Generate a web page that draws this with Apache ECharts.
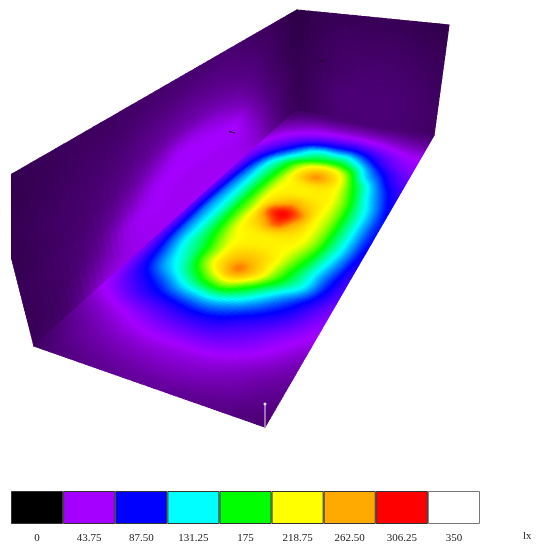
<!DOCTYPE html>
<html><head><meta charset="utf-8">
<style>html,body{margin:0;padding:0;background:#fff}#c{width:548px;height:548px}</style>
<script src="https://cdn.jsdelivr.net/npm/echarts@6/dist/echarts.min.js"></script>
</head><body><div id="c"></div>
<script>
// Illuminance (lx). Rows run along the room, near edge first; columns run across it.
const floorLux = [
[17,20,22,24,25,26,26,26,25,24,23,21,20],
[20,24,27,29,31,32,33,33,32,30,28,25,23],
[25,29,33,37,40,42,42,42,41,38,34,30,27],
[33,38,44,50,56,60,62,62,58,52,45,38,32],
[44,54,66,74,80,87,90,86,76,67,57,47,40],
[50,70,86,102,120,130,134,122,106,90,76,60,48],
[54,84,112,134,162,192,205,178,145,118,96,74,56],
[56,92,125,152,197,238,272,240,195,158,128,92,66],
[58,100,135,162,200,236,250,238,208,172,135,100,72],
[59,104,137,172,208,224,228,226,214,186,146,110,78],
[60,106,138,178,216,228,232,230,222,198,155,118,84],
[62,108,138,180,220,255,285,255,226,200,158,120,88],
[62,108,138,180,220,285,304,275,226,200,158,120,90],
[61,106,138,178,218,245,262,245,224,198,156,120,90],
[60,104,137,176,214,226,228,228,222,194,150,116,86],
[58,100,136,172,210,226,232,232,218,182,138,106,80],
[56,94,134,166,205,242,268,248,212,165,126,95,74],
[54,84,122,155,190,220,234,224,190,136,108,80,66],
[50,68,96,125,150,168,176,172,148,115,88,68,58],
[44,56,72,95,122,135,132,131,112,88,68,56,50],
[38,46,56,68,80,86,87,87,78,66,56,48,45],
[32,38,43,48,52,55,56,56,52,48,43,40,39],
[27,31,34,37,38,38,38,38,37,35,33,31,30],
[22,24,26,27,27,27,27,27,26,26,25,24,24],
[18,19,20,20,20,20,20,20,20,20,19,19,19]
];
// Rows run up the wall from the floor; columns run from the near end to the far end.
const leftWallLux = [
[16,20,36,40,42,43,43,43,42,38,28,20,16],
[15,19,30,40,42,42,42,42,41,36,26,19,16],
[15,18,25,39,43,42,42,42,42,34,24,18,15],
[15,18,22,31,41,44,44,44,42,30,22,18,15],
[14,17,20,25,33,41,41,38,33,26,20,17,14],
[14,17,19,22,26,30,31,30,27,23,19,16,14],
[14,16,18,20,23,25,26,25,23,21,18,15,13],
[13,15,17,18,20,21,22,22,21,19,17,15,13],
[13,15,16,17,18,19,19,19,19,17,16,14,12]
];
const backWallLux = [
[15,17,19,20,20,19,17],
[14,17,20,20,20,19,17],
[14,16,18,19,19,18,16],
[13,15,17,17,17,16,15],
[12,14,15,15,15,14,13]
];
const legendLevels = [0,43.75,87.5,131.25,175,218.75,262.5,306.25,350];
const legendLabels = ['0','43.75','87.50','131.25','175','218.75','262.50','306.25','350'];
const legendColors = ['#000000','#a500ff','#0000ff','#00ffff','#00ff00','#ffff00','#ffaa00','#ff0000','#ffffff'];
const unitLabel = 'lx';
const darkTicks = [[[229,131.5],[235,133]],[[319,60.5],[324,61]]];
const whitePost = [[265,404],[265,427]];

// Camera: where each surface's corners land on the picture plane.
const views = [
  {grid:leftWallLux, quad:[[34,346],[296,111],[297,10],[-7,185]],   sub:5},
  {grid:backWallLux, quad:[[296,111],[434,135],[449,25],[297,10]],  sub:6},
  {grid:floorLux,    quad:[[34,346],[265,427],[434,135],[296,111]], sub:8}
];
function homography(q){
  const [p0,p1,p2,p3]=q;
  const sx=p0[0]-p1[0]+p2[0]-p3[0], sy=p0[1]-p1[1]+p2[1]-p3[1];
  const dx1=p1[0]-p2[0], dx2=p3[0]-p2[0], dy1=p1[1]-p2[1], dy2=p3[1]-p2[1];
  const den=dx1*dy2-dx2*dy1;
  const g=(sx*dy2-dx2*sy)/den, h=(dx1*sy-sx*dy1)/den;
  const a=p1[0]-p0[0]+g*p1[0], b=p3[0]-p0[0]+h*p3[0];
  const d=p1[1]-p0[1]+g*p1[1], e=p3[1]-p0[1]+h*p3[1];
  return (u,v)=>{const w=g*u+h*v+1;return [(a*u+b*v+p0[0])/w,(d*u+e*v+p0[1])/w];};
}
views.forEach(s=>s.map=homography(s.quad));
function ramp(val){
  const step=legendLevels[1];
  const t=Math.max(0,Math.min(legendLevels.length-1.001,val/step));
  const i=Math.floor(t),f=t-i;
  const A=echarts.color.parse(legendColors[i]),B=echarts.color.parse(legendColors[i+1]);
  return 'rgb('+[0,1,2].map(k=>Math.round(A[k]+(B[k]-A[k])*f)).join(',')+')';
}
// Smooth shading inside one cell of the read grid.
function cr(a,b,c,d,t){return b+0.5*t*(c-a+t*(2*a-5*b+4*c-d+t*(3*(b-c)+d-a)));}
function shade(G,r,c,fr,fc){
  const R=G.length-1,C=G[0].length-1;
  const at=(i,j)=>G[Math.max(0,Math.min(R,i))][Math.max(0,Math.min(C,j))];
  const row=i=>cr(at(i,c-1),at(i,c),at(i,c+1),at(i,c+2),fc);
  return cr(row(r-1),row(r),row(r+1),row(r+2),fr);
}
const cells=[];
views.forEach((s,k)=>{for(let r=0;r<s.grid.length-1;r++)for(let c=0;c<s.grid[0].length-1;c++)cells.push([k,r,c]);});

function renderCell(params,api){
  const k=api.value(0),r=api.value(1),c=api.value(2),s=views[k];
  const nr=s.grid.length-1,nc=s.grid[0].length-1,S=s.sub,kids=[];
  for(let i=0;i<S;i++)for(let j=0;j<S;j++){
    const P=(ii,jj)=>api.coord(s.map((c+jj/S)/nc,(r+ii/S)/nr));
    const col=ramp(shade(s.grid,r,c,(i+.5)/S,(j+.5)/S));
    kids.push({type:'polygon',shape:{points:[P(i,j),P(i,j+1),P(i+1,j+1),P(i+1,j)]},
      style:{fill:col,stroke:col,lineWidth:1.1},silent:true});
  }
  return {type:'group',children:kids};
}
const chart=echarts.init(document.getElementById('c'),null,{renderer:'canvas'});
chart.setOption({
  animation:false,backgroundColor:'#ffffff',
  grid:[
    {left:11,right:0,top:0,height:470,containLabel:false},
    {left:11,width:469,top:491,height:33}
  ],
  xAxis:[
    {type:'value',gridIndex:0,min:11,max:548,show:false},
    {type:'category',gridIndex:1,data:legendLabels,axisLine:{show:false},axisTick:{show:false},
     axisLabel:{margin:9,fontFamily:'"Liberation Serif",serif',fontSize:11,color:'#222',interval:0}}
  ],
  yAxis:[
    {type:'value',gridIndex:0,min:0,max:470,inverse:true,show:false},
    {type:'value',gridIndex:1,min:0,max:1,show:false}
  ],
  graphic:[{type:'text',left:523,top:531,style:{text:unitLabel,fontFamily:'"Liberation Serif",serif',fontSize:11,fill:'#222'}}],
  series:[
    {type:'custom',xAxisIndex:0,yAxisIndex:0,data:cells,renderItem:renderCell,clip:true,silent:true,progressive:0,encode:{x:-1,y:-1}},
    ...darkTicks.map(t=>({type:'line',xAxisIndex:0,yAxisIndex:0,data:t,symbol:'none',silent:true,z:5,lineStyle:{color:'#1a1025',width:1.2}})),
    {type:'line',xAxisIndex:0,yAxisIndex:0,silent:true,z:5,lineStyle:{color:'#e8e0f0',width:1},
     data:[{value:whitePost[0],symbol:'circle',symbolSize:3,itemStyle:{color:'#e8e0f0'}},{value:whitePost[1],symbol:'none'}]},
    {type:'bar',xAxisIndex:1,yAxisIndex:1,barWidth:'100%',silent:true,
     data:legendLevels.map((v,i)=>({value:1,name:String(v),itemStyle:{color:legendColors[i],borderColor:i===8?'#777':'#333',borderWidth:1}}))}
  ]
});
</script></body></html>
